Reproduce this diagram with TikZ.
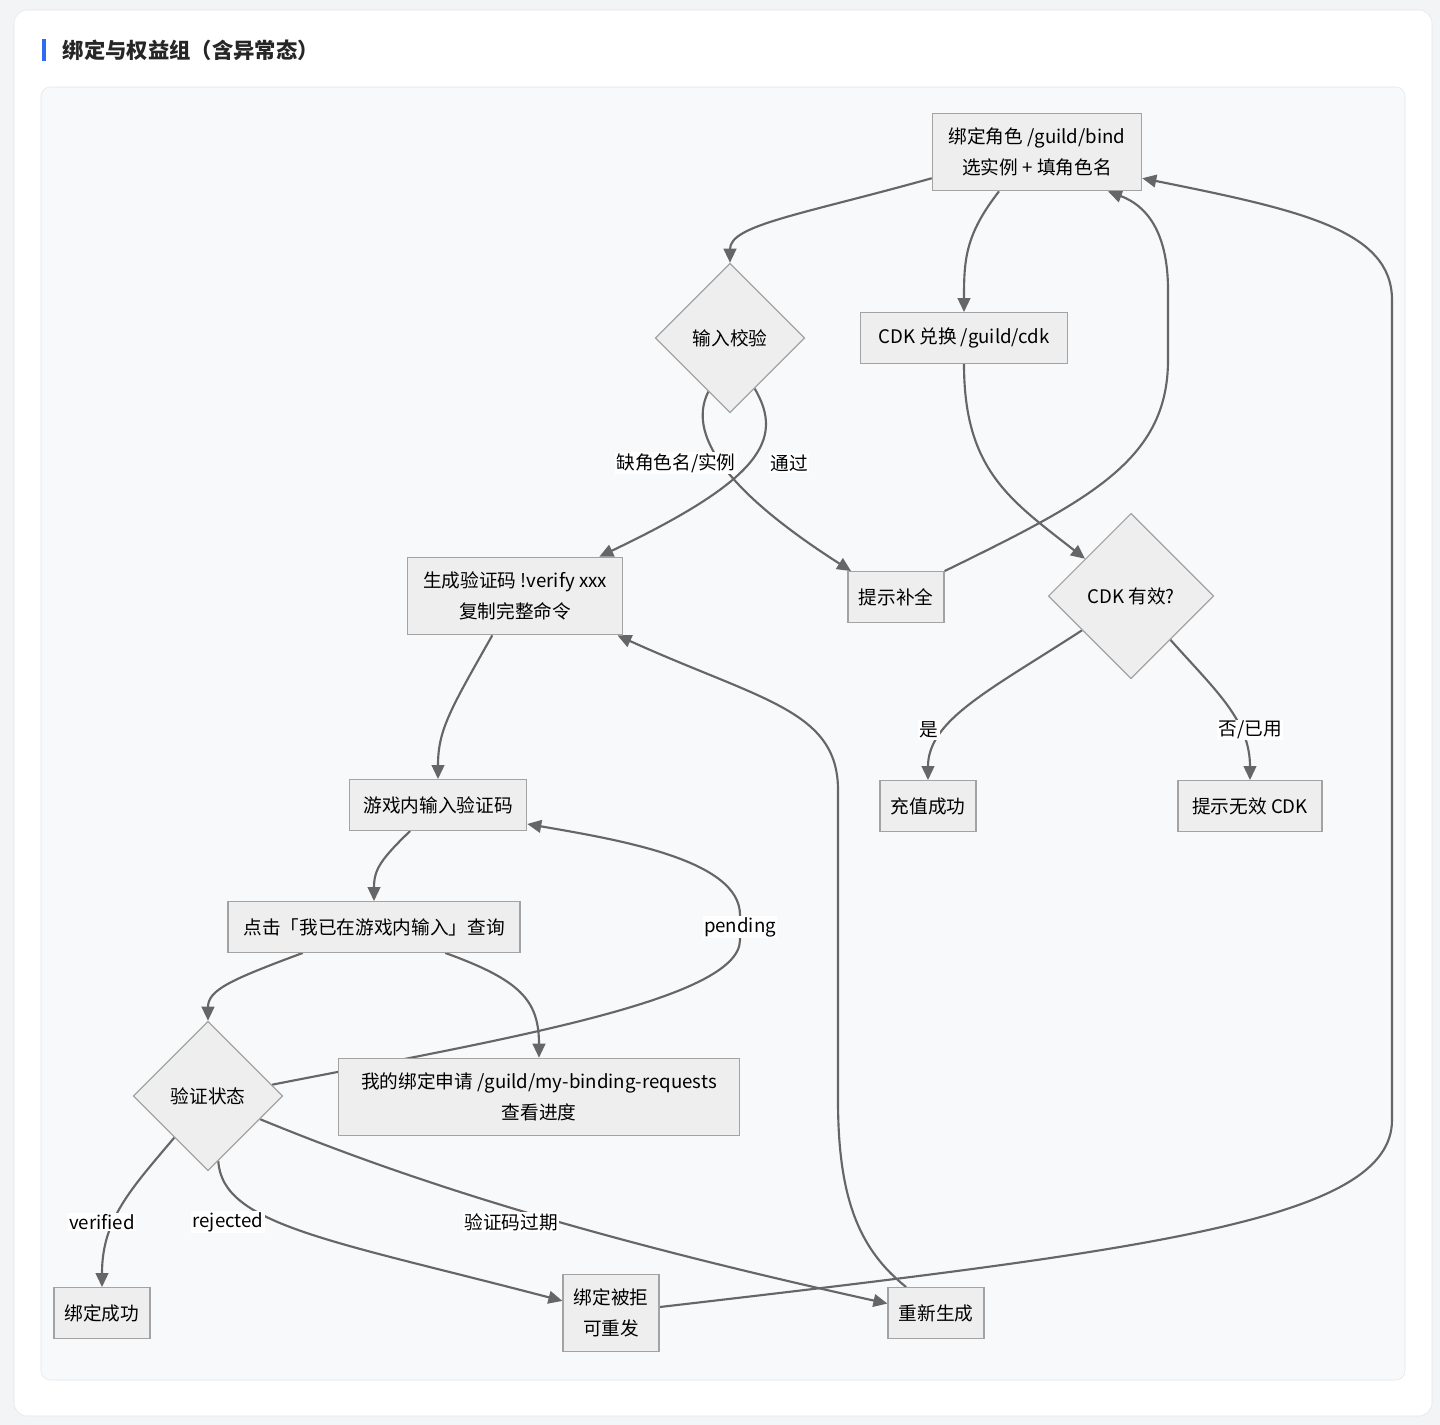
\documentclass[tikz,border=0pt]{standalone}
\usepackage{fontspec}
\setmainfont{Noto Sans CJK SC}
\usetikzlibrary{shapes.geometric,arrows.meta}
\definecolor{pagebg}{HTML}{F3F4F6}
\definecolor{panelbg}{HTML}{F8F9FB}
\definecolor{rim}{HTML}{E3E5E9}
\definecolor{nodefill}{HTML}{EEEEEE}
\definecolor{nodeline}{HTML}{A3A3A3}
\definecolor{wire}{HTML}{666666}
\definecolor{accent}{HTML}{2F6BF0}
\pgfdeclarelayer{panel}
\pgfdeclarelayer{edges}
\pgfsetlayers{panel,edges,main}

\begin{document}
\begin{tikzpicture}[x=0.75pt,y=-0.75pt,
	box/.style={draw=nodeline,fill=nodefill,line width=0.9pt,align=center,inner xsep=8pt,inner ysep=11pt,minimum height=38pt,font=\fontsize{14}{23}\selectfont},
	choice/.style={diamond,draw=nodeline,fill=nodefill,line width=0.9pt,aspect=1,inner sep=0pt,minimum width=112pt,minimum height=112pt,font=\fontsize{14}{23}\selectfont},
	link/.style={draw=wire,line width=1.6pt,-{Triangle[length=10.5pt,width=9.5pt]}},
	tag/.style={fill=white,inner sep=1pt,font=\fontsize{14}{18}\selectfont}]
	\useasboundingbox (0,0) rectangle (1440,1425);
	\begin{pgfonlayer}{panel}
	\fill[pagebg] (0,0) rectangle (1440,1425);
	\draw[rim,fill=white,rounded corners=10pt] (14,10) rectangle (1432,1416);
	\draw[rim,fill=panelbg,rounded corners=7pt] (41,87) rectangle (1405,1380);
	\fill[accent] (42,39) rectangle (46,61);
	\end{pgfonlayer}
	\node[anchor=west,text=black!85,font=\fontsize{16}{18}\selectfont\bfseries] (title) at (58,50) {绑定与权益组（含异常态）};

	\node[box,minimum width=157pt] (bind) at (1037,152) {绑定角色 /guild/bind\\选实例 + 填角色名};
	\node[choice] (check) at (730,338) {输入校验};
	\node[box,minimum width=155pt] (cdk) at (964,338) {CDK 兑换 /guild/cdk};
	\node[box,minimum width=161pt] (gen) at (515,596) {生成验证码 !verify xxx\\复制完整命令};
	\node[box] (hint) at (896,597) {提示补全};
	\node[choice,minimum width=124pt,minimum height=124pt] (cdkok) at (1131,596) {CDK 有效?};
	\node[box,minimum width=133pt] (ingame) at (438,805) {游戏内输入验证码};
	\node[box] (topup) at (928,806) {充值成功};
	\node[box,minimum width=108pt] (badcdk) at (1250,806) {提示无效 CDK};
	\node[box,minimum width=219pt] (query) at (374,927) {点击「我已在游戏内输入」查询};
	\node[choice] (status) at (208,1096) {验证状态};
	\node[box,minimum width=301pt] (mine) at (539,1097) {我的绑定申请 /guild/my-binding-requests\\查看进度};
	\node[box] (done) at (102,1313) {绑定成功};
	\node[box] (reject) at (611,1313) {绑定被拒\\可重发};
	\node[box] (regen) at (936,1313) {重新生成};

	\begin{pgfonlayer}{edges}
	\draw[link] (bind.194) .. controls (800,215) and (730,225) .. (check.north);
	\draw[link] (bind.226) .. controls (965,235) and (964,260) .. (cdk.north);
	\draw[link] (check.248) .. controls (684,440) and (740,500) .. (hint.150);
	\node[tag] (lmiss) at (676,463) {缺角色名/实例};
	\draw[link] (check.296) .. controls (785,440) and (760,480) .. (gen.25);
	\node[tag] (lpass) at (789,463) {通过};
	\draw[link] (cdk.south) .. controls (964,470) and (1010,500) .. (cdkok.141);
	\draw[link] (hint.north east) .. controls (1090,500) and (1168,460) .. (1168,360) -- (1168,290) .. controls (1168,230) and (1145,205) .. (bind.331);
	\draw[link] (cdkok.215) .. controls (990,690) and (928,720) .. (topup.north);
	\node[tag] (lyes) at (929,730) {是};
	\draw[link] (cdkok.312) .. controls (1215,690) and (1250,720) .. (badcdk.north);
	\node[tag] (lno) at (1250,730) {否/已用};
	\draw[link] (gen.240) .. controls (450,710) and (438,730) .. (ingame.north);
	\draw[link] (regen.139) .. controls (860,1250) and (838,1200) .. (838,1100) -- (838,790) .. controls (838,710) and (760,700) .. (gen.339);
	\draw[link] (ingame.223) .. controls (380,860) and (374,870) .. (query.north);
	\draw[link] (query.200) .. controls (230,980) and (208,990) .. (status.north);
	\draw[link] (query.340) .. controls (520,980) and (539,1000) .. (mine.north);
	\draw[link] (status.10) .. controls (500,1040) and (740,1000) .. (740,940) -- (740,915) .. controls (740,860) and (620,840) .. (ingame.348);
	\node[tag] (lpend) at (740,927) {pending};
	\draw[link] (status.231) .. controls (130,1190) and (102,1220) .. (done.north);
	\node[tag] (lver) at (102,1222) {verified};
	\draw[link] (status.279) .. controls (222,1225) and (330,1240) .. (reject.166);
	\node[tag] (lrej) at (228,1222) {rejected};
	\draw[link] (status.336) .. controls (420,1185) and (600,1240) .. (regen.169);
	\node[tag] (lexp) at (511,1222) {验证码过期};
	\draw[link] (reject.7) .. controls (1150,1250) and (1392,1220) .. (1392,1120) -- (1392,300) .. controls (1392,230) and (1300,210) .. (bind.346);
	\end{pgfonlayer}
\end{tikzpicture}
\end{document}
